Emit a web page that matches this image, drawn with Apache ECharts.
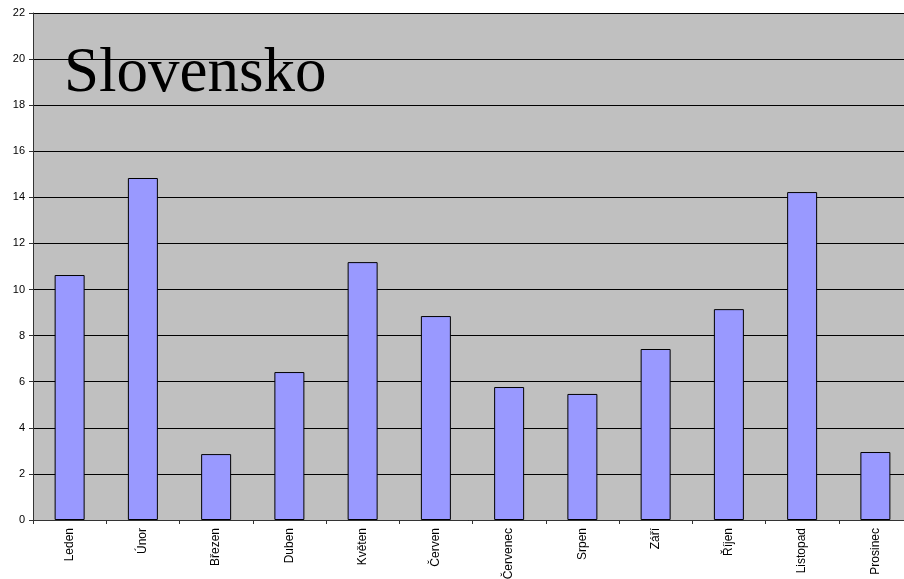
<!DOCTYPE html>
<html><head><meta charset="utf-8">
<script src="https://cdn.jsdelivr.net/npm/echarts@6/dist/echarts.min.js"></script>
<style>html,body{margin:0;padding:0;background:#fff;overflow:hidden;}#c{width:904px;height:579px;}</style>
</head><body><div id="c"></div>
<script>
const categories = ['Leden','Únor','Březen','Duben','Květen','Červen','Červenec','Srpen','Září','Říjen','Listopad','Prosinec'];
const values = [10.63, 14.84, 2.86, 6.42, 11.19, 8.85, 5.77, 5.47, 7.42, 9.15, 14.23, 2.95];
const yTicks = [0,2,4,6,8,10,12,14,16,18,20,22];
const titleText = 'Slovensko';

const chart = echarts.init(document.getElementById('c'), null, {renderer:'canvas'});
chart.setOption({
  animation:false,
  backgroundColor:'#ffffff',
  title:{text:titleText,left:59,top:38,textStyle:{fontFamily:'Liberation Serif, Times New Roman, serif',fontSize:63,fontWeight:'normal',color:'#000'}},
  grid:{left:33,right:-8,top:13,bottom:59,show:true,backgroundColor:'#c0c0c0',borderWidth:0,containLabel:false,outerBoundsMode:'none'},
  xAxis:{type:'category',data:categories,
    axisLine:{show:true,lineStyle:{color:'#333',width:1}},
    axisTick:{show:true,length:4,lineStyle:{color:'#333'}},
    axisLabel:{rotate:90,fontFamily:'Liberation Sans, Arial, sans-serif',fontSize:12,color:'#000',margin:8,interval:0}},
  yAxis:{type:'value',min:yTicks[0],max:yTicks[yTicks.length-1],interval:2,
    axisLine:{show:true,lineStyle:{color:'#333',width:1}},
    axisTick:{show:true,length:4,lineStyle:{color:'#333'}},
    axisLabel:{fontFamily:'Liberation Sans, Arial, sans-serif',fontSize:11,color:'#000',margin:8},
    splitLine:{show:true,lineStyle:{color:'#000',width:1}}},
  series:[{type:'bar',data:values,barWidth:30,
    itemStyle:{color:'#9999ff',borderColor:'#000',borderWidth:1}}]
});
</script></body></html>
